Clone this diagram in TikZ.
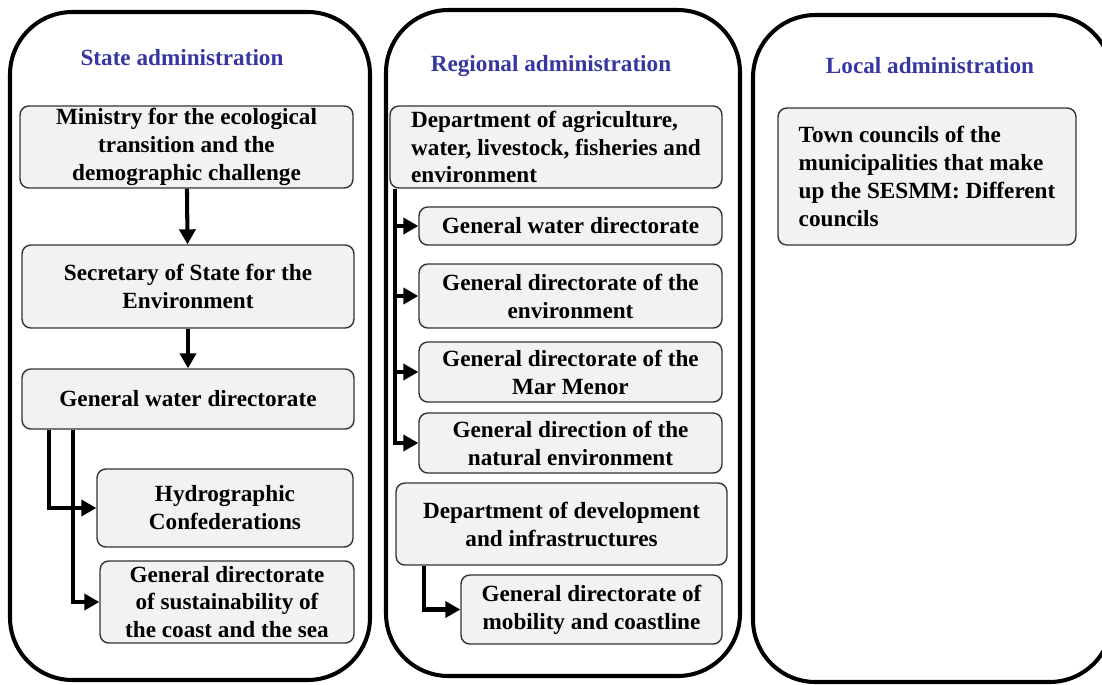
\documentclass[tikz,border=0pt]{standalone}
\usepackage{fontspec}
\setmainfont{Liberation Serif}
\usetikzlibrary{arrows.meta}
\definecolor{headblue}{RGB}{55,55,160}
\definecolor{boxgray}{RGB}{242,242,242}

\begin{document}
\begin{tikzpicture}[x=0.02cm, y=-0.02cm, every node/.style={font=\bfseries\fontsize{13.2}{15.9}\selectfont},
        panel/.style={line width=2.3pt, rounded corners=1.25cm},
        head/.style={text=headblue},
        box/.style={draw=black!80, line width=0.8pt, fill=boxgray, rounded corners=5pt, align=center, inner sep=0pt},
        conn/.style={line width=2.3pt, -{Triangle[length=0.3cm,width=0.32cm]}}]
    \useasboundingbox (0,0) rectangle (1102,684);
    % the three columns
    \draw[panel] (10,12) rectangle (370,680);
    \draw[panel] (386,10) rectangle (740,676);
    \draw[panel] (753,15) rectangle (1112,682);
    \node[head] (hstate) at (182,58) {State administration};
    \node[head] (hreg) at (551,66) {Regional administration};
    \node[head] (hloc) at (930,66) {Local administration};
    % state
    \node[box, minimum width=6.66cm, minimum height=1.64cm] (min) at (186.5,147) {Ministry for the ecological\\ transition and the\\ demographic challenge};
    \node[box, minimum width=6.64cm, minimum height=1.66cm] (sec) at (188,286.5) {Secretary of State for the\\ Environment};
    \node[box, minimum width=6.64cm, minimum height=1.2cm] (gwd) at (188,399) {General water directorate};
    \node[box, minimum width=5.12cm, minimum height=1.56cm] (hyd) at (225,508) {Hydrographic\\ Confederations};
    \node[box, minimum width=5.08cm, minimum height=1.64cm] (sust) at (227,602) {General directorate\\ of sustainability of\\ the coast and the sea};
    \draw[conn] (min) -- (sec);
    \draw[conn] (sec) -- (gwd);
    \draw[conn] ([xshift=0.56cm]gwd.south west) |- (hyd.west);
    \draw[conn] ([xshift=1.04cm]gwd.south west) |- (sust.west);
    % regional
    \node[box, align=left, minimum width=6.64cm, minimum height=1.64cm] (agr) at (556,147) {Department of agriculture,\\ water, livestock, fisheries and\\ environment};
    \node[box, minimum width=6.06cm, minimum height=0.76cm] (gw2) at (570.5,226) {General water directorate};
    \node[box, minimum width=6.06cm, minimum height=1.28cm] (gde) at (570.5,296) {General directorate of the\\ environment};
    \node[box, minimum width=6.06cm, minimum height=1.2cm] (gmm) at (570.5,372) {General directorate of the\\ Mar Menor};
    \node[box, minimum width=6.06cm, minimum height=1.2cm] (gne) at (570.5,443) {General direction of the\\ natural environment};
    \node[box, minimum width=6.62cm, minimum height=1.64cm] (dev) at (561.5,524) {Department of development\\ and infrastructures};
    \node[box, minimum width=5.22cm, minimum height=1.38cm] (mob) at (591.5,609.5) {General directorate of\\ mobility and coastline};
    \foreach \n in {gw2,gde,gmm,gne}
        \draw[conn] ([xshift=0.12cm]agr.south west) |- (\n.west);
    \draw[conn] ([xshift=0.58cm]dev.south west) |- (mob.west);
    % local
    \node[box, align=left, minimum width=5.96cm, minimum height=2.74cm] (town) at (927,176.5) {Town councils of the\\ municipalities that make\\ up the SESMM: Different\\ councils};
\end{tikzpicture}
\end{document}
